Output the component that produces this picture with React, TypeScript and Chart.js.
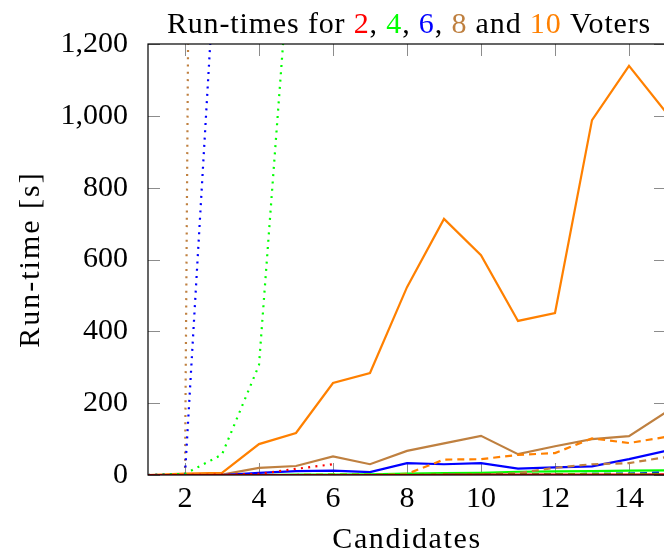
import React, { useEffect, useRef } from "react";
import { Chart, registerables } from "chart.js";

Chart.register(...registerables);

// Number of candidates on the x axis
const candidates = [1, 2, 3, 4, 5, 6, 7, 8, 9, 10, 11, 12, 13, 14, 15];
const xTickValues = [2, 4, 6, 8, 10, 12, 14];
const yTickValues = [0, 200, 400, 600, 800, 1000, 1200];

// Run-times in seconds; solid / dashed / dotted variants per voter count
const red2Solid = [0, 0, 0, 0, 0, 0, 0, 0, 1, 1, 1, 1, 1, 1, 2];
const red2Dashed = [0, 0, 0, 0, 0, 0, 0, 0, 0, 1, 1, 1, 1, 1, 1];
const red2Dotted = [0, 0, 1, 3, 17, 30];

const green4Solid = [0, 0, 0, 0, 1, 1, 2, 4, 5, 6, 9, 10, 11, 12, 13];
const green4Dashed = [0, 0, 0, 0, 0, 1, 1, 1, 1, 2, 2, 2, 3, 3, 3];
const green4Dotted = [0, 3, 57, 306, 1680];

const blue6Solid = [0, 0, 0, 6, 11, 12, 8, 33, 30, 33, 18, 21, 24, 44, 67];
const blue6Dashed = [0, 0, 0, 0, 0, 0, 0, 0, 0, 1, 1, 2, 3, 4, 7];
const blue6Dotted = [0, 2, 1760];

const brown8Solid = [0, 0, 1, 20, 25, 52, 30, 67, 88, 109, 58, 80, 100, 108, 175];
const brown8Dashed = [0, 0, 0, 0, 0, 0, 0, 0, 1, 2, 5, 20, 30, 33, 50];
const brown8Dotted = [0, 0.5, 14500];

const orange10Solid = [0, 4, 6, 86, 117, 256, 284, 523, 713, 612, 429, 451, 988, 1139, 1010];
const orange10Dashed = [0, 0, 0, 0, 0, 1, 1, 3, 43, 44, 56, 61, 102, 89, 106];

const RED = "#ff0000";
const GREEN = "#00ff00";
const BLUE = "#0000ff";
const BROWN = "#bf8040";
const ORANGE = "#ff8000";

const FONT = "'Liberation Serif', 'Times New Roman', serif";
const FONT_SIZE = 30;

const DASHED = [7, 5];
const DOTTED = [2, 5.3];

const toPoints = (values: number[]) =>
  values.map((v, i) => ({ x: candidates[i], y: v }));

const series = (
  label: string,
  values: number[],
  color: string,
  dash: number[]
) => ({
  label,
  data: toPoints(values),
  borderColor: color,
  backgroundColor: color,
  borderWidth: 2.2,
  borderDash: dash,
  borderCapStyle: "butt" as const,
  pointRadius: 0,
  tension: 0,
  fill: false,
});

const titleParts: [string, string][] = [
  ["Run-times for ", "#000"],
  ["2", RED],
  [", ", "#000"],
  ["4", GREEN],
  [", ", "#000"],
  ["6", BLUE],
  [", ", "#000"],
  ["8", BROWN],
  [" and ", "#000"],
  ["10", ORANGE],
  [" Voters", "#000"],
];

// Frame, inward tick marks, title and axis titles
const decorations = {
  id: "decorations",
  beforeDatasetsDraw(chart: any) {
    const { ctx, chartArea, scales } = chart;
    const { left, right, top, bottom } = chartArea;
    const tick = 12;
    ctx.save();
    ctx.strokeStyle = "#8c8c8c";
    ctx.lineWidth = 1;
    ctx.beginPath();
    xTickValues.forEach((v) => {
      const px = Math.round(scales.x.getPixelForValue(v)) + 0.5;
      ctx.moveTo(px, bottom);
      ctx.lineTo(px, bottom - tick);
      ctx.moveTo(px, top);
      ctx.lineTo(px, top + tick);
    });
    yTickValues.forEach((v) => {
      const py = Math.round(scales.y.getPixelForValue(v)) + 0.5;
      ctx.moveTo(left, py);
      ctx.lineTo(left + tick, py);
      ctx.moveTo(right, py);
      ctx.lineTo(right - tick, py);
    });
    ctx.stroke();
    ctx.restore();
  },
  afterDatasetsDraw(chart: any) {
    const { ctx, chartArea } = chart;
    const { left, right, top, bottom } = chartArea;
    ctx.save();
    ctx.strokeStyle = "#000";
    ctx.lineWidth = 1.2;
    ctx.strokeRect(left, top, right - left, bottom - top);
    ctx.restore();
  },
  afterDraw(chart: any) {
    const { ctx, chartArea } = chart;
    const cx = (chartArea.left + chartArea.right) / 2;
    const cy = (chartArea.top + chartArea.bottom) / 2;
    ctx.save();
    ctx.font = `${FONT_SIZE}px ${FONT}`;
    ctx.textBaseline = "alphabetic";
    ctx.textAlign = "left";

    // Title with coloured voter counts
    ctx.letterSpacing = "0.85px";
    const total = titleParts.reduce((w, [t]) => w + ctx.measureText(t).width, 0);
    let x = cx + 2 - total / 2;
    titleParts.forEach(([t, c]) => {
      ctx.fillStyle = c;
      ctx.fillText(t, x, 33);
      x += ctx.measureText(t).width;
    });

    // x-axis title
    ctx.fillStyle = "#000";
    ctx.textAlign = "center";
    ctx.letterSpacing = "1.6px";
    ctx.fillText("Candidates", cx, 548);

    // y-axis title
    ctx.letterSpacing = "2px";
    ctx.translate(39, cy);
    ctx.rotate(-Math.PI / 2);
    ctx.fillText("Run-time [s]", 0, 0);
    ctx.letterSpacing = "0px";
    ctx.restore();
  },
};

export default function App() {
  const canvasRef = useRef<HTMLCanvasElement | null>(null);

  useEffect(() => {
    const canvas = canvasRef.current;
    if (!canvas) return;
    const chart = new Chart(canvas, {
      type: "line",
      data: {
        datasets: [
          series("2 voters (dotted)", red2Dotted, RED, DOTTED),
          series("4 voters (dotted)", green4Dotted, GREEN, DOTTED),
          series("6 voters (dotted)", blue6Dotted, BLUE, DOTTED),
          series("8 voters (dotted)", brown8Dotted, BROWN, DOTTED),
          series("2 voters (dashed)", red2Dashed, RED, DASHED),
          series("4 voters (dashed)", green4Dashed, GREEN, DASHED),
          series("6 voters (dashed)", blue6Dashed, BLUE, DASHED),
          series("8 voters (dashed)", brown8Dashed, BROWN, DASHED),
          series("10 voters (dashed)", orange10Dashed, ORANGE, DASHED),
          series("2 voters", red2Solid, RED, []),
          series("4 voters", green4Solid, GREEN, []),
          series("6 voters", blue6Solid, BLUE, []),
          series("8 voters", brown8Solid, BROWN, []),
          series("10 voters", orange10Solid, ORANGE, []),
        ],
      },
      options: {
        animation: false,
        responsive: false,
        devicePixelRatio: 1,
        layout: { padding: { top: 44, right: 14, left: 0, bottom: 0 } },
        plugins: {
          legend: { display: false },
          title: { display: false },
          tooltip: { enabled: false },
        },
        scales: {
          x: {
            type: "linear",
            min: 1,
            max: 15,
            grid: { display: false },
            border: { display: false },
            afterBuildTicks: (scale: any) => {
              scale.ticks = xTickValues.map((v) => ({ value: v }));
            },
            afterFit: (scale: any) => {
              scale.height = 77;
            },
            ticks: {
              color: "#000",
              padding: 1,
              maxRotation: 0,
              autoSkip: false,
              font: { family: FONT, size: FONT_SIZE, lineHeight: 1 },
            },
          },
          y: {
            type: "linear",
            min: 0,
            max: 1200,
            grid: { display: false },
            border: { display: false },
            afterBuildTicks: (scale: any) => {
              scale.ticks = yTickValues.map((v) => ({ value: v }));
            },
            afterFit: (scale: any) => {
              scale.width = 148;
            },
            ticks: {
              color: "#000",
              padding: 12,
              autoSkip: false,
              font: { family: FONT, size: FONT_SIZE },
              callback: (v: any) => Number(v).toLocaleString("en-US"),
            },
          },
        },
      },
      plugins: [decorations],
    });
    return () => chart.destroy();
  }, []);

  return (
    <div
      style={{
        position: "fixed",
        left: 0,
        top: 0,
        width: 664,
        height: 552,
        overflow: "hidden",
        background: "#fff",
      }}
    >
      <canvas ref={canvasRef} width={680} height={552} />
    </div>
  );
}
